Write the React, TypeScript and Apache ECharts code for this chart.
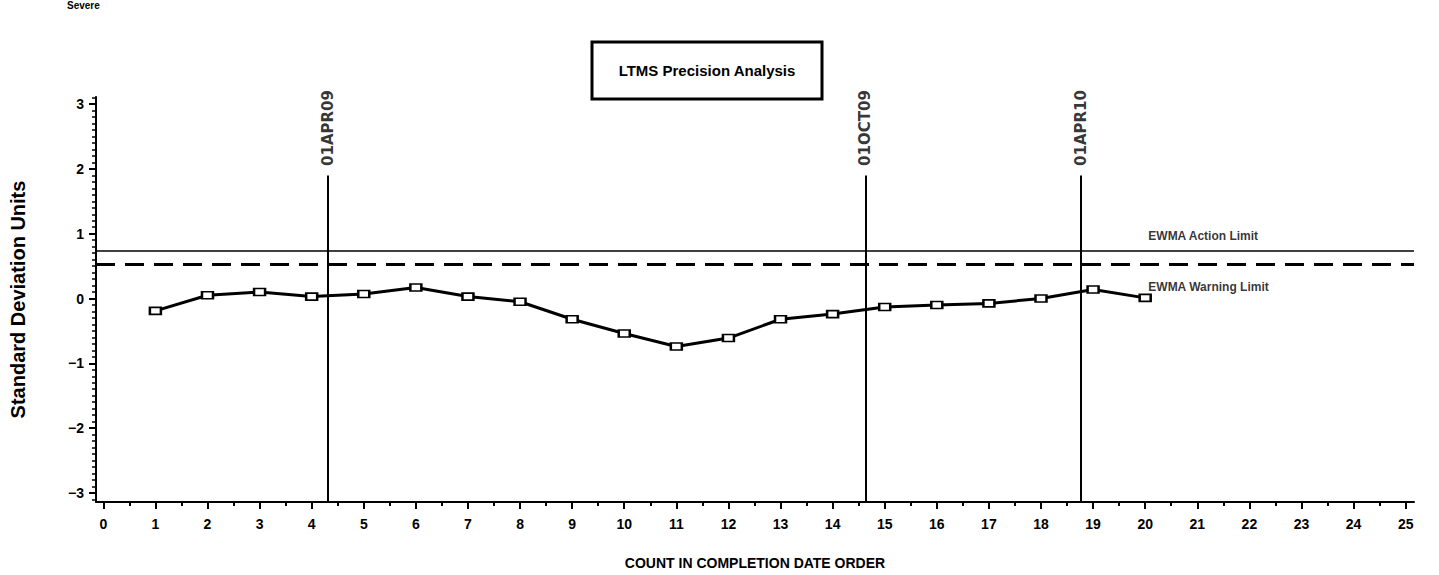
import React, { useEffect, useRef } from "react";
import * as echarts from "echarts";

// ---- data ----
const counts = [1, 2, 3, 4, 5, 6, 7, 8, 9, 10, 11, 12, 13, 14, 15, 16, 17, 18, 19, 20];
const ewmaValues = [-0.19, 0.05, 0.1, 0.03, 0.07, 0.17, 0.03, -0.05, -0.32, -0.54, -0.74, -0.61, -0.32, -0.24, -0.13, -0.1, -0.075, 0.0, 0.14, 0.01];

const dateLinePositions = [4.31, 14.63, 18.77];
const dateLineLabels = ["01APR09", "01OCT09", "01APR10"];
const dateLineTop = 1.9;

const actionLimit = 0.74;
const warningLimit = 0.53;
const limitLabels = ["EWMA Action Limit", "EWMA Warning Limit"];
const limitLabelX = 20.05;
const limitLabelY = [0.96, 0.18];

const xTickValues = [0, 1, 2, 3, 4, 5, 6, 7, 8, 9, 10, 11, 12, 13, 14, 15, 16, 17, 18, 19, 20, 21, 22, 23, 24, 25];
const yTickValues = [-3, -2, -1, 0, 1, 2, 3];
const xMin = -0.14;
const xMax = 25.16;
const yMin = -3.14;
const yMax = 3.11;

const xMinorTicks: number[] = [];
for (let i = 0; i < 25; i++) xMinorTicks.push(i + 0.5);
const yMinorTicks: number[] = [];
for (let i = -31; i <= 31; i++) {
  if (i % 10 !== 0) yMinorTicks.push(i / 10);
}

const FONT = "'Liberation Sans', Arial, sans-serif";

export default function App() {
  const ref = useRef<HTMLDivElement>(null);

  useEffect(() => {
    if (!ref.current) return;
    const chart = echarts.init(ref.current, undefined, { renderer: "svg" });

    const option: any = {
      animation: false,
      backgroundColor: "#ffffff",
      grid: { left: 96, right: 25, top: 97, bottom: 73, containLabel: false, outerBoundsMode: "none" },
      xAxis: [
        {
          type: "value",
          min: xMin,
          max: xMax,
          position: "bottom",
          name: "COUNT IN COMPLETION DATE ORDER",
          nameLocation: "middle",
          nameGap: 54,
          nameTextStyle: { fontFamily: FONT, fontWeight: "bold", fontSize: 14, color: "#000" },
          splitLine: { show: false },
          axisLine: { show: true, onZero: false, lineStyle: { color: "#000", width: 2 } },
          axisTick: { show: true, customValues: xTickValues, length: 7, lineStyle: { color: "#000", width: 2 } },
          axisLabel: {
            show: true,
            customValues: xTickValues,
            margin: 15,
            fontFamily: FONT,
            fontWeight: "bold",
            fontSize: 14,
            color: "#000",
          },
        },
        {
          type: "value",
          min: xMin,
          max: xMax,
          position: "bottom",
          splitLine: { show: false },
          axisLine: { show: false, onZero: false },
          axisTick: { show: true, customValues: xMinorTicks, length: 4, lineStyle: { color: "#000", width: 2 } },
          axisLabel: { show: false },
        },
      ],
      yAxis: [
        {
          type: "value",
          min: yMin,
          max: yMax,
          position: "left",
          name: "Standard Deviation Units",
          nameLocation: "middle",
          nameGap: 68,
          nameRotate: 90,
          nameTextStyle: { fontFamily: FONT, fontWeight: "bold", fontSize: 20, color: "#000" },
          splitLine: { show: false },
          axisLine: { show: true, onZero: false, lineStyle: { color: "#000", width: 2 } },
          axisTick: { show: true, customValues: yTickValues, length: 7, lineStyle: { color: "#000", width: 2 } },
          axisLabel: {
            show: true,
            customValues: yTickValues,
            margin: 12,
            fontFamily: FONT,
            fontWeight: "bold",
            fontSize: 14,
            color: "#000",
            formatter: (v: number) => String(v).replace("-", "\u2212"),
          },
        },
        {
          type: "value",
          min: yMin,
          max: yMax,
          position: "left",
          splitLine: { show: false },
          axisLine: { show: false, onZero: false },
          axisTick: { show: true, customValues: yMinorTicks, length: 4, lineStyle: { color: "#000", width: 1.5 } },
          axisLabel: { show: false },
        },
      ],
      series: [
        {
          type: "line",
          name: "EWMA",
          xAxisIndex: 0,
          yAxisIndex: 0,
          data: counts.map((c, i) => [c, ewmaValues[i]]),
          symbol: "rect",
          symbolSize: [11, 7],
          lineStyle: { color: "#000", width: 3 },
          itemStyle: { color: "#ffffff", borderColor: "#000", borderWidth: 2 },
          z: 5,
          markLine: {
            silent: true,
            symbol: "none",
            label: { show: false },
            data: [
              { yAxis: actionLimit, lineStyle: { color: "#000", width: 1.5, type: "solid" } },
              { yAxis: warningLimit, lineStyle: { color: "#000", width: 3, type: [19, 10] } },
              ...dateLinePositions.map((x) => [
                { coord: [x, dateLineTop], lineStyle: { color: "#000", width: 2, type: "solid" } },
                { coord: [x, yMin] },
              ]),
            ],
          },
        },
        {
          type: "scatter",
          name: "dates",
          xAxisIndex: 0,
          yAxisIndex: 0,
          data: dateLinePositions.map((x, i) => ({ value: [x, dateLineTop], name: dateLineLabels[i] })),
          symbolSize: 1,
          itemStyle: { color: "rgba(0,0,0,0)" },
          silent: true,
          label: {
            show: true,
            position: "top",
            distance: 9,
            rotate: 90,
            align: "left",
            verticalAlign: "middle",
            formatter: (p: any) => p.name,
            fontFamily: "'DejaVu Sans', sans-serif",
            fontWeight: "bold",
            fontSize: 15,
            color: "#000",
          },
        },
        {
          type: "scatter",
          name: "limits",
          xAxisIndex: 0,
          yAxisIndex: 0,
          data: limitLabels.map((t, i) => ({ value: [limitLabelX, limitLabelY[i]], name: t })),
          symbolSize: 1,
          itemStyle: { color: "rgba(0,0,0,0)" },
          silent: true,
          label: {
            show: true,
            position: "right",
            distance: 0,
            formatter: (p: any) => p.name,
            fontFamily: FONT,
            fontWeight: "bold",
            fontSize: 12,
            color: "#000",
          },
        },
      ],
      graphic: [
        {
          type: "text",
          left: 67,
          top: 0,
          style: { text: "Severe", fontFamily: FONT, fontWeight: "bold", fontSize: 10, fill: "#000" },
        },
        {
          type: "rect",
          shape: { x: 592, y: 42, width: 230, height: 57 },
          style: { fill: "none", stroke: "#000", lineWidth: 3 },
        },
        {
          type: "text",
          x: 707,
          y: 70,
          style: {
            text: "LTMS Precision Analysis",
            fontFamily: FONT,
            fontWeight: "bold",
            fontSize: 15,
            fill: "#000",
            align: "center",
            verticalAlign: "middle",
          },
        },
      ],
    };

    chart.setOption(option);
    return () => chart.dispose();
  }, []);

  return (
    <div
      ref={ref}
      style={{ position: "fixed", left: 0, top: 0, width: 1439, height: 575, background: "#fff" }}
    />
  );
}
